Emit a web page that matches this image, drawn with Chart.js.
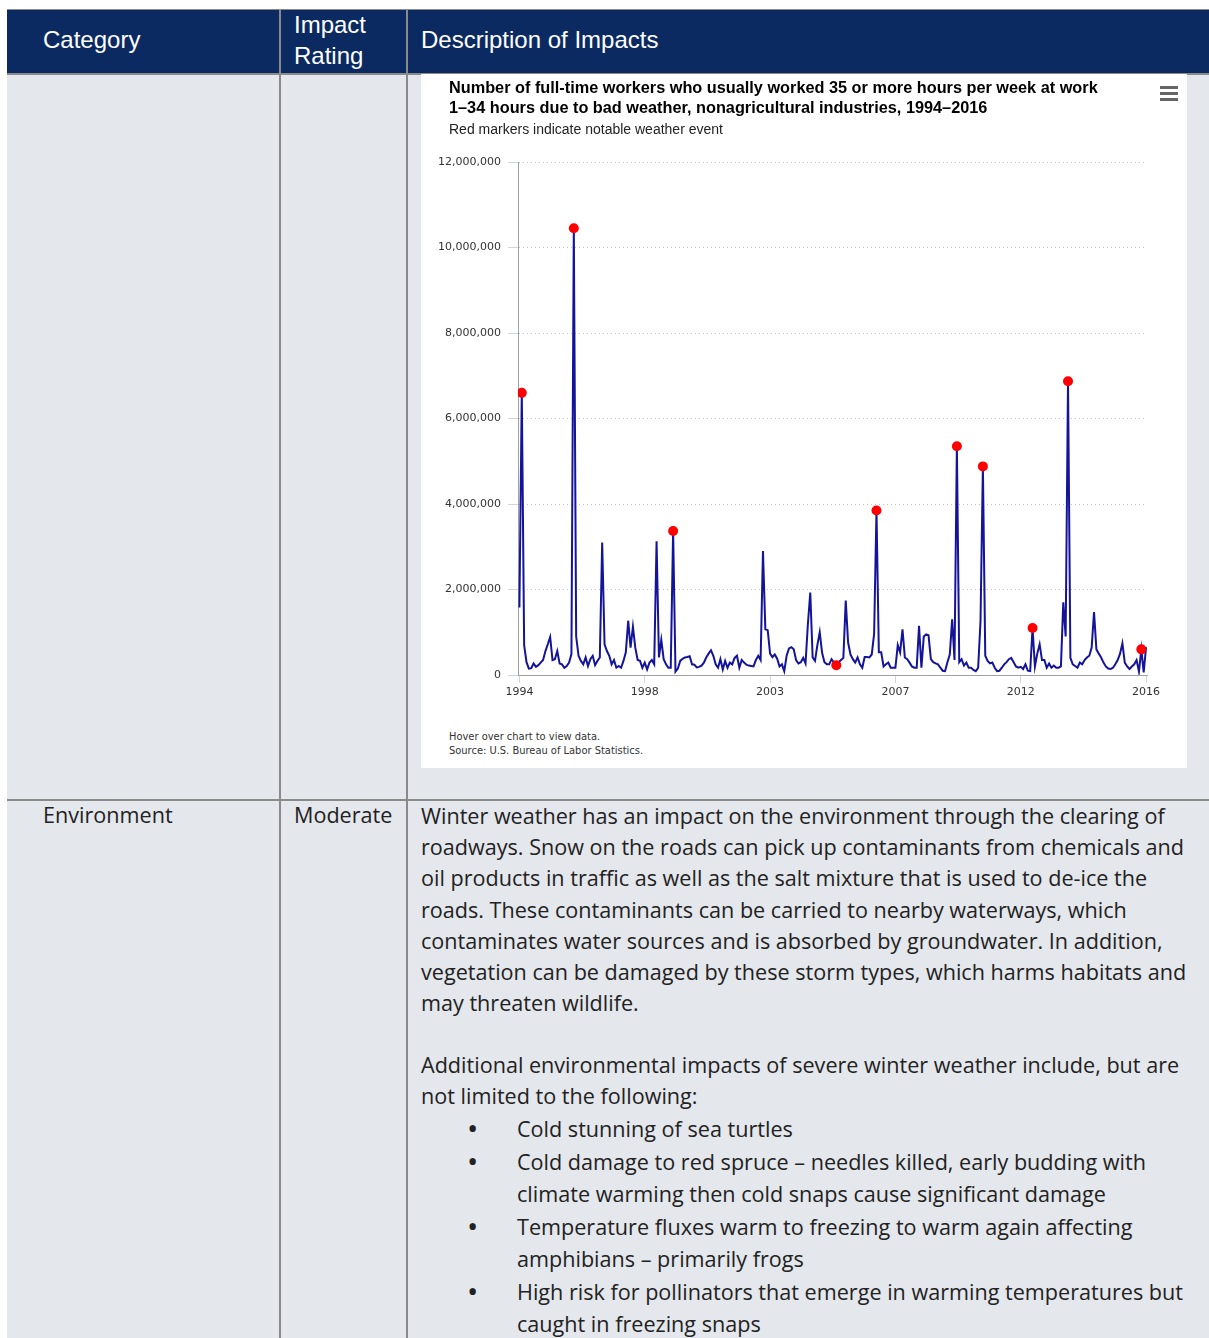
<!DOCTYPE html>
<html>
<head>
<meta charset="utf-8">
<script src="https://cdn.jsdelivr.net/npm/chart.js@4.4.0/dist/chart.umd.min.js"></script>
<style>
  body { margin: 0; width: 1209px; height: 1338px; overflow: hidden; background: #fff; position: relative; }
  .abs { position: absolute; }
  .hdr { left: 7px; top: 10px; width: 1202px; height: 63px; background: #0b2a61; }
  .rule { background: #8a8a8a; }
  .row { left: 7px; width: 1202px; background: #e4e7ec; }
  .hd-txt { color: #fff; font: 24px "Liberation Sans", Arial, sans-serif; line-height: 31px; white-space: nowrap; }
  .cell { color: #222; font: 21.6px "Open Sans", sans-serif; white-space: nowrap; }
  .box { left: 421px; top: 74px; width: 766px; height: 694px; background: #fff; }
  .ttl { left: 28px; top: 3px; font: bold 16.3px "Liberation Sans", Arial, sans-serif; color: #000; line-height: 20px; white-space: nowrap; }
  .sub { left: 28px; top: 47px; font: 14px "Liberation Sans", Arial, sans-serif; color: #222; white-space: nowrap; }
  .menu { left: 739px; top: 12px; width: 18px; }
  .menu i { display: block; height: 3px; background: #666; margin-bottom: 3px; }
  .foot { left: 28px; top: 656px; font: 11px "DejaVu Sans Condensed", "DejaVu Sans", sans-serif; color: #333; line-height: 14px; white-space: nowrap; }
  canvas { position: absolute; left: 0; top: 0; }
  ul { margin: 0; padding: 0; list-style: none; }
  li { position: relative; padding-left: 96px; }
  li::before { content: "\2022"; position: absolute; left: 46px; top: -1px; font-size: 30px; }
</style>
</head>
<body>
<div class="abs rule" style="left:7px;top:9px;width:1202px;height:1px"></div>
<div class="abs hdr"></div>
<div class="abs hd-txt" style="left:43px;top:24px">Category</div>
<div class="abs hd-txt" style="left:294px;top:9px">Impact<br>Rating</div>
<div class="abs hd-txt" style="left:421px;top:24px">Description of Impacts</div>

<div class="abs rule" style="left:7px;top:73px;width:1202px;height:2px"></div>
<div class="abs row" style="top:75px;height:724px"></div>
<div class="abs rule" style="left:7px;top:799px;width:1202px;height:2px"></div>
<div class="abs row" style="top:801px;height:537px"></div>
<div class="abs rule" style="left:279px;top:10px;width:2px;height:1328px"></div>
<div class="abs rule" style="left:406px;top:10px;width:2px;height:1328px"></div>

<div class="abs box">
  <canvas id="graph" width="766" height="650"></canvas>
  <div class="abs ttl">Number of full-time workers who usually worked 35 or more hours per week at work<br>1–34 hours due to bad weather, nonagricultural industries, 1994–2016</div>
  <div class="abs sub">Red markers indicate notable weather event</div>
  <div class="abs menu"><i></i><i></i><i></i></div>
  <div class="abs foot">Hover over chart to view data.<br>Source: U.S. Bureau of Labor Statistics.</div>
</div>

<div class="abs cell" style="left:43px;top:799px;line-height:31px">Environment</div>
<div class="abs cell" style="left:294px;top:799px;line-height:31px">Moderate</div>
<div class="abs cell" style="left:421px;top:800px;line-height:31.2px">
Winter weather has an impact on the environment through the clearing of<br>
roadways. Snow on the roads can pick up contaminants from chemicals and<br>
oil products in traffic as well as the salt mixture that is used to de-ice the<br>
roads. These contaminants can be carried to nearby waterways, which<br>
contaminates water sources and is absorbed by groundwater. In addition,<br>
vegetation can be damaged by these storm types, which harms habitats and<br>
may threaten wildlife.
</div>
<div class="abs cell" style="left:421px;top:1049px;line-height:31.2px">
Additional environmental impacts of severe winter weather include, but are<br>
not limited to the following:
</div>
<ul class="abs cell" style="left:421px;top:1113px;line-height:32.5px">
  <li>Cold stunning of sea turtles</li>
  <li>Cold damage to red spruce – needles killed, early budding with<br>climate warming then cold snaps cause significant damage</li>
  <li>Temperature fluxes warm to freezing to warm again affecting<br>amphibians – primarily frogs</li>
  <li>High risk for pollinators that emerge in warming temperatures but<br>caught in freezing snaps</li>
</ul>

<script>
// monthly series, Jan 1994 onward, in thousands of workers
const startYear = 1994;
const workers = [
  1580, 6600, 700, 300, 150, 160, 270, 190, 230, 290, 350, 560,     // 1994
  720, 890, 350, 370, 560, 270, 250, 170, 210, 290, 490, 10450,     // 1995
  900, 450, 330, 250, 410, 210, 370, 450, 230, 330, 410, 3100,      // 1996
  720, 560, 450, 250, 350, 170, 210, 170, 330, 530, 1270, 640,      // 1997
  1130, 640, 350, 330, 170, 290, 130, 290, 350, 250, 3130, 410,     // 1998
  820, 370, 250, 170, 170, 3370, 80, 150, 330, 380, 410, 420,       // 1999
  440, 250, 240, 180, 190, 220, 290, 410, 500, 580, 450, 250,       // 2000
  170, 370, 130, 330, 170, 290, 250, 400, 450, 170, 350, 290,       // 2001
  240, 220, 210, 200, 350, 450, 350, 2900, 1070, 1050, 500, 420,    // 2002
  480, 380, 200, 250, 90, 450, 620, 650, 600, 350, 270, 300,        // 2003
  400, 270, 1200, 1930, 410, 330, 700, 1000, 520, 300, 250, 250,    // 2004
  370, 290, 230, 300, 350, 400, 1740, 760, 480, 370, 290, 410,      // 2005
  250, 170, 420, 420, 410, 480, 960, 3850, 530, 530, 200, 250,      // 2006
  290, 170, 170, 170, 700, 530, 1070, 410, 370, 290, 200, 170,      // 2007
  170, 1150, 170, 900, 950, 930, 370, 300, 270, 250, 170, 100,      // 2008
  90, 300, 480, 1300, 350, 5350, 300, 370, 220, 290, 170, 170,      // 2009
  120, 90, 170, 1270, 4880, 450, 330, 270, 290, 170, 90, 100,       // 2010
  170, 250, 300, 370, 400, 300, 200, 170, 190, 140, 250, 100,       // 2011
  90, 1100, 200, 500, 720, 350, 350, 170, 270, 170, 220, 170,       // 2012
  170, 200, 1700, 900, 6870, 400, 250, 210, 170, 290, 250, 350,     // 2013
  410, 450, 640, 1470, 600, 500, 410, 290, 200, 150, 140, 170,      // 2014
  250, 350, 500, 740, 290, 200, 140, 200, 250, 350, 80, 600,        // 2015
  60, 650                                                           // 2016
];
// months flagged as notable weather events
const eventIdx = [1, 23, 65, 134, 151, 185, 196, 217, 232, 263];
// x tick positions (month index), labelled with the rounded year
const xTickIdx = [0, 53, 106, 159, 212, 265];
const yMax = 12000000;
const yStep = 2000000;

Chart.defaults.font.family = '"DejaVu Sans", sans-serif';

const linePts = workers.map((v, i) => ({ x: i, y: v * 1000 }));
const eventPts = eventIdx.map(i => ({ x: i, y: workers[i] * 1000 }));

const ctx = document.getElementById('graph').getContext('2d');
new Chart(ctx, {
  type: 'line',
  data: {
    datasets: [
      {
        label: 'Weather events',
        data: eventPts,
        showLine: false,
        pointRadius: 5,
        pointBorderWidth: 0,
        pointBackgroundColor: '#ff0000',
        order: 0
      },
      {
        label: 'Workers',
        data: linePts,
        borderColor: '#14149a',
        borderWidth: 2,
        pointRadius: 0,
        tension: 0,
        fill: false,
        order: 1
      }
    ]
  },
  options: {
    responsive: false,
    animation: false,
    devicePixelRatio: 1,
    layout: { padding: { top: 88, left: 0, right: 40, bottom: 0 } },
    plugins: { legend: { display: false }, tooltip: { enabled: false } },
    scales: {
      x: {
        type: 'linear',
        // small margin so the first month sits just off the axis line
        min: -0.6,
        max: xTickIdx[xTickIdx.length - 1] + 0.4,
        afterBuildTicks: s => { s.ticks = xTickIdx.map(v => ({ value: v })); },
        afterFit: s => { s.height = 49; },
        ticks: {
          autoSkip: false,
          maxRotation: 0,
          padding: 3,
          color: '#333',
          font: { size: 11 },
          callback: v => String(Math.round(startYear + v / 12))
        },
        grid: { drawOnChartArea: false, tickLength: 8, tickColor: '#ccd6eb' },
        border: { color: '#a0a0a0', width: 1 }
      },
      y: {
        min: 0,
        max: yMax,
        afterFit: s => { s.width = 97; },
        ticks: {
          stepSize: yStep,
          padding: 7,
          color: '#333',
          font: { size: 11 },
          callback: v => v.toLocaleString('en-US')
        },
        grid: { color: '#c4c4c4', lineWidth: 1, tickLength: 10, tickColor: '#ccd6eb' },
        border: { color: '#a0a0a0', width: 1, dash: [1, 3] }
      }
    }
  }
});
</script>
</body>
</html>
